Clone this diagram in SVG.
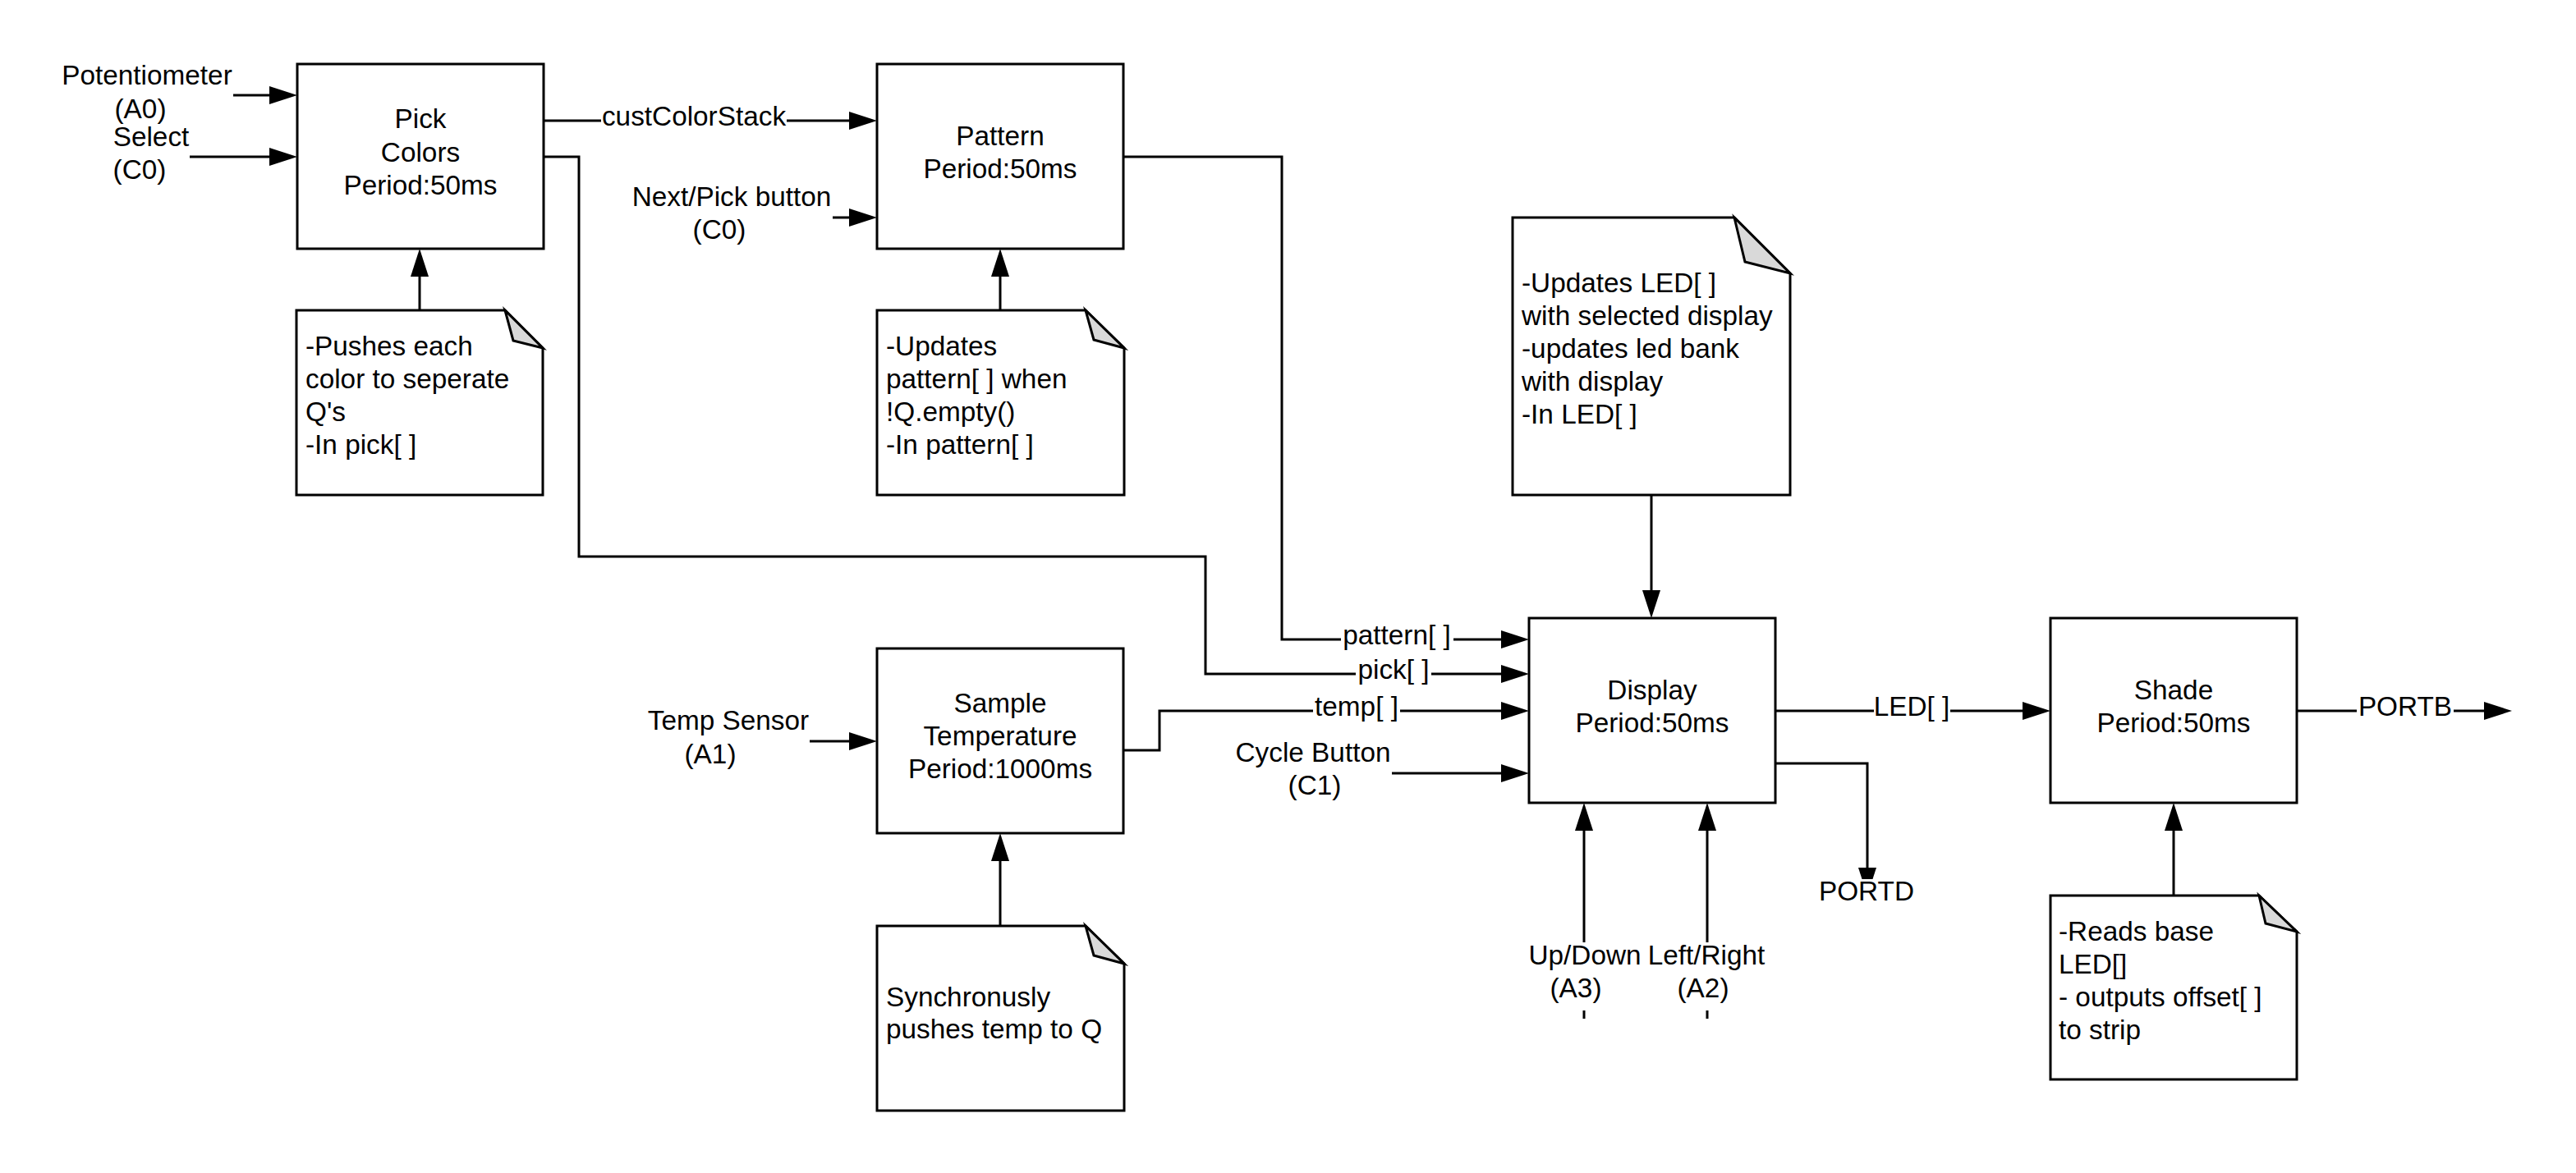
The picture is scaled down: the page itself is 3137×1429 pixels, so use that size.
<svg xmlns="http://www.w3.org/2000/svg" width="3137" height="1429" viewBox="0 0 3137 1429">
<style>
.box{fill:#fff;stroke:#000;stroke-width:3}
.note{fill:#fff;stroke:#000;stroke-width:3;stroke-linejoin:miter}
.fold{fill:#d9d9d9;stroke:#000;stroke-width:3;stroke-linejoin:miter}
.c{fill:none;stroke:#000;stroke-width:3}
.ca{fill:none;stroke:#000;stroke-width:3;marker-end:url(#arrow)}
text{font-family:"Liberation Sans",Arial,sans-serif;font-size:33.33px;fill:#000}
.m{text-anchor:middle}
</style>
<defs>
<marker id="arrow" markerUnits="userSpaceOnUse" markerWidth="34" markerHeight="22" viewBox="0 0 34 22" refX="24" refY="11" orient="auto"><path d="M0,0 L34,11 L0,22 Z" fill="#000"/></marker>
</defs>
<rect width="3137" height="1429" fill="#fff"/>

<g id="connectors">
<path class="ca" d="M284,116 L352,116"/>
<path class="ca" d="M231,191 L352,191"/>
<path class="ca" d="M662,147 L732,147 M958,147 L1058,147"/>
<path class="ca" d="M662,191 L705,191 L705,678 L1468,678 L1468,821 L1651,821 M1743,821 L1852,821"/>
<path class="ca" d="M1014,265 L1058,265"/>
<path class="ca" d="M1368,191 L1561,191 L1561,779 L1633,779 M1770,779 L1852,779"/>
<path class="ca" d="M511,378 L511,313"/>
<path class="ca" d="M1218,378 L1218,313"/>
<path class="ca" d="M986,903 L1058,903"/>
<path class="ca" d="M1368,914 L1412,914 L1412,866 L1599,866 M1705,866 L1852,866"/>
<path class="ca" d="M1218,1128 L1218,1025"/>
<path class="ca" d="M1695,942 L1852,942"/>
<path class="ca" d="M2011,603 L2011,743"/>
<path class="ca" d="M1929,1241 L1929,1231 M1929,1148 L1929,988"/>
<path class="ca" d="M2079,1241 L2079,1231 M2079,1148 L2079,988"/>
<path class="ca" d="M2162,866 L2282,866 M2375,866 L2487,866"/>
<path class="ca" d="M2162,930 L2274,930 L2274,1081"/>
<path class="ca" d="M2797,866 L2870,866 M2988,866 L3049,866"/>
<path class="ca" d="M2647,1091 L2647,988"/>
<g id="connector-labels">
<text class="m" x="179" y="103">Potentiometer</text>
<text class="m" x="171" y="144">(A0)</text>
<text class="m" x="184" y="178">Select</text>
<text class="m" x="170" y="218">(C0)</text>
<text class="m" x="845" y="153">custColorStack</text>
<text class="m" x="891" y="251">Next/Pick button</text>
<text class="m" x="876" y="291">(C0)</text>
<text class="m" x="1701" y="785">pattern[ ]</text>
<text class="m" x="1697" y="827">pick[ ]</text>
<text class="m" x="1652" y="872">temp[ ]</text>
<text class="m" x="887" y="889">Temp Sensor</text>
<text class="m" x="865" y="930">(A1)</text>
<text class="m" x="1599" y="928">Cycle Button</text>
<text class="m" x="1601" y="968">(C1)</text>
<text class="m" x="1930" y="1175">Up/Down</text>
<text class="m" x="1919" y="1215">(A3)</text>
<text class="m" x="2078" y="1175">Left/Right</text>
<text class="m" x="2074" y="1215">(A2)</text>
<text class="m" x="2328" y="872">LED[ ]</text>
<rect x="2214" y="1071" width="118" height="40" fill="#fff"/>
<text class="m" x="2273" y="1097">PORTD</text>
<text class="m" x="2929" y="872">PORTB</text>
</g>
</g>

<g id="pick-colors">
<rect class="box" x="362" y="78" width="300" height="225"/>
<text class="m" x="512" y="156">Pick</text>
<text class="m" x="512" y="196.5">Colors</text>
<text class="m" x="512" y="236.5">Period:50ms</text>
</g>
<g id="pattern">
<rect class="box" x="1068" y="78" width="300" height="225"/>
<text class="m" x="1218" y="176.5">Pattern</text>
<text class="m" x="1218" y="216.5">Period:50ms</text>
</g>
<g id="sample-temperature">
<rect class="box" x="1068" y="790" width="300" height="225"/>
<text class="m" x="1218" y="868">Sample</text>
<text class="m" x="1218" y="908">Temperature</text>
<text class="m" x="1218" y="948">Period:1000ms</text>
</g>
<g id="display">
<rect class="box" x="1862" y="753" width="300" height="225"/>
<text class="m" x="2012" y="852">Display</text>
<text class="m" x="2012" y="892">Period:50ms</text>
</g>
<g id="shade">
<rect class="box" x="2497" y="753" width="300" height="225"/>
<text class="m" x="2647" y="852">Shade</text>
<text class="m" x="2647" y="892">Period:50ms</text>
</g>

<g id="note-pick">
<path class="note" d="M361,378 H615 L661,424 V603 H361 Z"/>
<path class="fold" d="M615,378 L625,415 L661,424 Z"/>
<text x="372" y="433">-Pushes each</text>
<text x="372" y="473">color to seperate</text>
<text x="372" y="513">Q's</text>
<text x="372" y="553">-In pick[ ]</text>
</g>
<g id="note-pattern">
<path class="note" d="M1068,378 H1322 L1369,424 V603 H1068 Z"/>
<path class="fold" d="M1322,378 L1332,414 L1369,424 Z"/>
<text x="1079" y="433">-Updates</text>
<text x="1079" y="473">pattern[ ] when</text>
<text x="1079" y="513">!Q.empty()</text>
<text x="1079" y="553">-In pattern[ ]</text>
</g>
<g id="note-sample">
<path class="note" d="M1068,1128 H1322 L1369,1174 V1353 H1068 Z"/>
<path class="fold" d="M1322,1128 L1332,1164 L1369,1174 Z"/>
<text x="1079" y="1226">Synchronusly</text>
<text x="1079" y="1265">pushes temp to Q</text>
</g>
<g id="note-display">
<path class="note" d="M1842,265 H2112 L2180,333 V603 H1842 Z"/>
<path class="fold" d="M2112,265 L2125,319 L2180,333 Z"/>
<text x="1853" y="355.5">-Updates LED[ ]</text>
<text x="1853" y="395.5">with selected display</text>
<text x="1853" y="435.5">-updates led bank</text>
<text x="1853" y="475.5">with display</text>
<text x="1853" y="515.5">-In LED[ ]</text>
</g>
<g id="note-shade">
<path class="note" d="M2497,1091 H2751 L2797,1135 V1315 H2497 Z"/>
<path class="fold" d="M2751,1091 L2759,1125 L2797,1135 Z"/>
<text x="2507" y="1145.5">-Reads base</text>
<text x="2507" y="1185.5">LED[]</text>
<text x="2507" y="1225.5">- outputs offset[ ]</text>
<text x="2507" y="1265.5">to strip</text>
</g>
</svg>
